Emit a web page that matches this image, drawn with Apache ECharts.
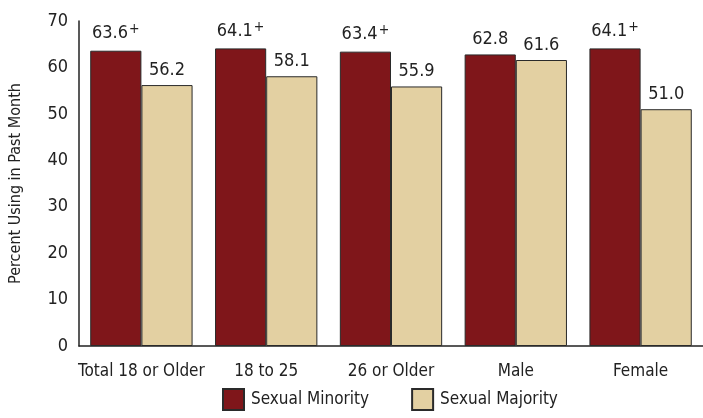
<!DOCTYPE html>
<html><head><meta charset="utf-8">
<script src="https://cdn.jsdelivr.net/npm/echarts@6/dist/echarts.min.js"></script>
<style>html,body{margin:0;padding:0;background:#fff}#c{width:703px;height:418px}</style>
</head><body><div id="c"></div>
<script>
var categories = ['Total 18 or Older', '18 to 25', '26 or Older', 'Male', 'Female'];
var minorityValues = [63.6, 64.1, 63.4, 62.8, 64.1];
var majorityValues = [56.2, 58.1, 55.9, 61.6, 51.0];
var minoritySignificant = [true, true, true, false, true];
var yTicks = [0, 10, 20, 30, 40, 50, 60, 70];

var FONT = '"DejaVu Sans Condensed","Liberation Sans Narrow",sans-serif';
var chart = echarts.init(document.getElementById('c'));
function lbl(flags) {
  return {
    show: true, position: 'top', distance: 6,
    formatter: function (p) {
      var s = '{v|' + p.value.toFixed(1) + '}';
      if (flags && flags[p.dataIndex]) s += '{s|+}';
      return s;
    },
    rich: {
      v: { fontFamily: FONT, fontSize: 18, color: '#222' },
      s: { fontFamily: FONT, fontSize: 14, color: '#222', verticalAlign: 'top', padding: [0, 0, 8, 1] }
    }
  };
}
chart.setOption({
  animation: false,
  grid: { left: 79, right: 0, top: 21, bottom: 72 },
  legend: {
    bottom: 2, left: 217, itemWidth: 21, itemHeight: 21, itemGap: 42, icon: 'rect',
    textStyle: { fontFamily: FONT, fontSize: 17, color: '#222', padding: [0, 0, 0, 2] },
    data: ['Sexual Minority', 'Sexual Majority']
  },
  xAxis: {
    type: 'category', data: categories,
    axisLine: { lineStyle: { color: '#222', width: 1.5 } },
    axisTick: { show: false },
    axisLabel: { fontFamily: FONT, fontSize: 17, color: '#222', margin: 17, interval: 0 }
  },
  yAxis: {
    type: 'value', min: yTicks[0], max: yTicks[yTicks.length - 1], interval: 10,
    name: 'Percent Using in Past Month', nameLocation: 'middle', nameGap: 55,
    nameTextStyle: { fontFamily: FONT, fontSize: 16, color: '#222' },
    axisLine: { show: true, lineStyle: { color: '#222', width: 1.5 } },
    axisTick: { show: false },
    splitLine: { show: false },
    axisLabel: { fontFamily: FONT, fontSize: 18, color: '#222', margin: 11 }
  },
  series: [
    { name: 'Sexual Minority', type: 'bar', data: minorityValues, barGap: '0%', barCategoryGap: '18%',
      itemStyle: { color: '#7F161A', borderColor: '#2a2a2a', borderWidth: 1 }, label: lbl(minoritySignificant) },
    { name: 'Sexual Majority', type: 'bar', data: majorityValues,
      itemStyle: { color: '#E3D0A2', borderColor: '#2a2a2a', borderWidth: 1 }, label: lbl(null) }
  ]
});
</script></body></html>
